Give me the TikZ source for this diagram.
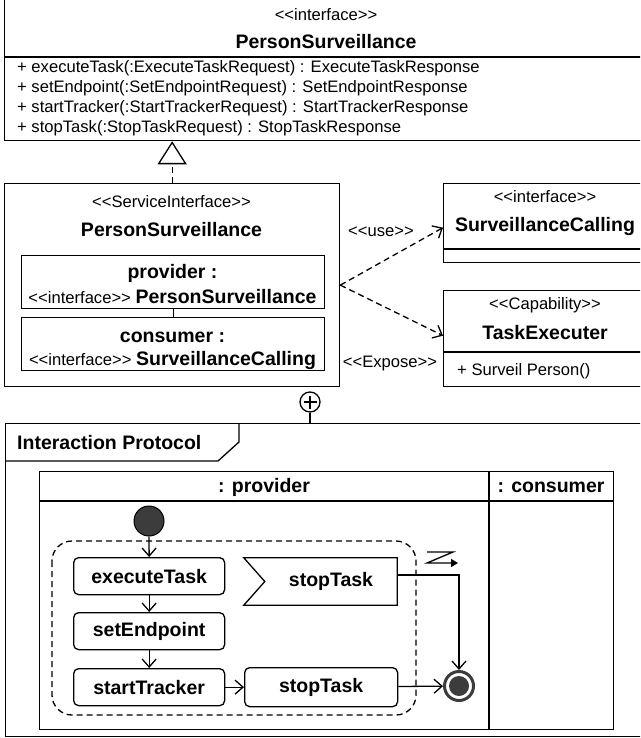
\documentclass[tikz,border=0pt]{standalone}
\usepackage{fontspec}
\setmainfont{Liberation Sans}[Ligatures=TeXOff]
\usepackage{xcolor}
\usepackage{tikz}
\usetikzlibrary{positioning}
\usetikzlibrary{arrows, arrows.meta}

\definecolor{nodegray}{HTML}{3C3C3C}
\newcommand{\regtxt}{\fontsize{16.6}{19}\selectfont}
\newcommand{\boldtxt}{\fontsize{19.5}{23}\selectfont\bfseries}

\tikzset{
  umlbox/.style={draw, line width=1.3pt, anchor=north west, inner sep=0pt},
  actbox/.style={draw, line width=1.3pt, rounded corners=5pt, anchor=north west,
    inner sep=0pt, minimum width=151pt, minimum height=37pt},
  lbl/.style={inner sep=0pt},
  flow/.style={line width=1.3pt, -{Straight Barb[length=8pt,width=14pt]}},
  dep/.style={flow, dash pattern=on 6pt off 4pt}
}

\begin{document}
\begin{tikzpicture}[x=1pt, y=-1pt]
  \useasboundingbox (0,0) rectangle (640,738);
  \clip (0,0) rectangle (640,738);

  \node (PSI) [umlbox, minimum width=644pt, minimum height=142pt] at (4,-2) {};
  \draw[line width=1.3pt] (4,57) -- (648,57);
  \node[lbl] at (326,15) {\regtxt <<interface>>};
  \node[lbl] at (326,42) {\boldtxt PersonSurveillance};
  \node[lbl, anchor=west] at (17,68) {\regtxt + executeTask(:ExecuteTaskRequest) : ExecuteTaskResponse};
  \node[lbl, anchor=west] at (17,88.5) {\regtxt + setEndpoint(:SetEndpointRequest) : SetEndpointResponse};
  \node[lbl, anchor=west] at (17,108.5) {\regtxt + startTracker(:StartTrackerRequest) : StartTrackerResponse};
  \node[lbl, anchor=west] at (17,128) {\regtxt + stopTask(:StopTaskRequest) : StopTaskResponse};

  \node (SVC) [umlbox, minimum width=335pt, minimum height=203pt] at (4,183) {};
  \node[lbl] at (171.5,202) {\regtxt <<ServiceInterface>>};
  \node[lbl] at (171.5,230) {\boldtxt PersonSurveillance};
  \node (PROV) [umlbox, minimum width=303pt, minimum height=53pt] at (21,255) {};
  \node[lbl] at (172.5,273) {\boldtxt provider :};
  \node[lbl] at (172.5,297) {\regtxt <<interface>> \boldtxt PersonSurveillance};
  \node (CONS) [umlbox, minimum width=303pt, minimum height=53pt] at (21,317) {};
  \node[lbl] at (172.5,337) {\boldtxt consumer :};
  \node[lbl] at (172.5,360) {\regtxt <<interface>> \boldtxt SurveillanceCalling};
  \draw[line width=1.3pt] (PROV.south) -- (CONS.north);
  \draw[line width=1.3pt, dash pattern=on 6pt off 4pt, -{Triangle[open, length=23pt, width=29pt]}]
    (SVC.north) -- (SVC.north |- PSI.south);

  \node (CALL) [umlbox, minimum width=204pt, minimum height=79pt] at (443,183) {};
  \draw[line width=1.3pt] (443,249) -- (647,249);
  \node[lbl] at (545,197) {\regtxt <<interface>>};
  \node[lbl] at (545,227) {\boldtxt SurveillanceCalling};

  \node (CAP) [umlbox, minimum width=204pt, minimum height=96pt] at (443,290) {};
  \draw[line width=1.3pt] (443,352) -- (647,352);
  \node[lbl] at (545,305) {\regtxt <<Capability>>};
  \node[lbl] at (545,333) {\boldtxt TaskExecuter};
  \node[lbl, anchor=west] at (457,371) {\regtxt + Surveil Person()};

  \draw[dep] (SVC.east) -- ([yshift=-4.5pt]CALL.west);
  \draw[dep] (SVC.east) -- ([yshift=3pt]CAP.west);
  \node (USE) [lbl] at (381,232) {\regtxt <<use>>};
  \node (EXPOSE) [lbl] at (390,364) {\regtxt <<Expose>>};

  \node (PLUS) [circle, draw, line width=1.3pt, minimum size=20pt, inner sep=0pt] at (310,402) {};
  \draw[line width=1.3pt] (PLUS.center) ++(-6.5,0) -- ++(13,0);
  \draw[line width=1.3pt] (PLUS.center) ++(0,-6.5) -- ++(0,13);

  \node (FRAME) [umlbox, minimum width=642pt, minimum height=313pt] at (5,423) {};
  \draw[line width=1.3pt] (PLUS.south) -- (PLUS.south |- FRAME.north);
  \draw[line width=1.3pt] (5,461) -- (218,461) -- (239,442) -- (239,423);
  \node[lbl, anchor=west] at (17,443) {\boldtxt Interaction Protocol};

  \node (LANES) [umlbox, minimum width=574pt, minimum height=258pt] at (39,471) {};
  \draw[line width=1.3pt] (39,501) -- (613,501);
  \draw[line width=1.3pt] (489,471) -- (489,729);
  \node[lbl] at (264,487) {\boldtxt : provider};
  \node[lbl] at (551,487) {\boldtxt : consumer};

  \node (INIT) [circle, fill=nodegray, draw=black, line width=1pt, minimum size=30pt, inner sep=0pt] at (149,521) {};
  \draw[line width=1.3pt, dash pattern=on 6pt off 4pt, rounded corners=20pt] (52,541) rectangle (416,715);

  \node (EXEC) [actbox] at (73,557) {\boldtxt executeTask};
  \node (SETE) [actbox] at (73,612) {\boldtxt setEndpoint};
  \node (START) [actbox] at (73,668) {\boldtxt startTracker};
  \node (STOPT) [actbox, minimum width=153pt, minimum height=39pt] at (244,667) {\boldtxt stopTask};

  \node (STOPE) [minimum width=153pt, minimum height=47pt, inner sep=0pt] at (320.5,581.5) {\hspace*{21pt}\boldtxt stopTask};
  \draw[line width=1.3pt] (STOPE.north west) -- (STOPE.north east) -- (STOPE.south east)
    -- (STOPE.south west) -- ([xshift=21pt]STOPE.west) -- cycle;

  \node (FINAL) [circle, draw=nodegray, line width=3pt, minimum size=29pt, inner sep=0pt] at (459,686) {};
  \fill[nodegray] (FINAL.center) circle[radius=10pt];

  \draw[flow] (INIT.south) -- (EXEC.north);
  \draw[flow] (EXEC) -- (SETE);
  \draw[flow] (SETE) -- (START);
  \draw[flow] (START) -- (STOPT);
  \draw[flow] (STOPT) -- (FINAL);
  \draw[flow] ([yshift=6.5pt]STOPE.east) -| (FINAL.north);

  \draw[line width=1.3pt, -{Triangle[length=7pt,width=8pt]}] (427,552) -- (453,552) -- (427,563) -- (458,563);
\end{tikzpicture}
\end{document}
